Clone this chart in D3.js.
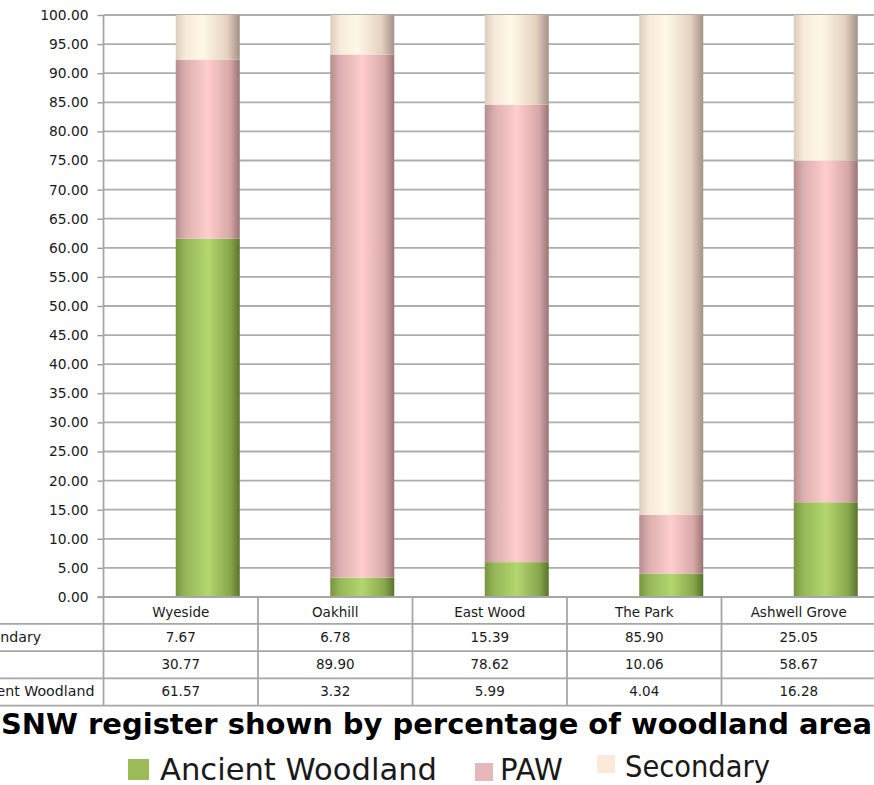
<!DOCTYPE html>
<html>
<head>
<meta charset="utf-8">
<script src="https://cdn.jsdelivr.net/npm/d3@7"></script>
<style>
  html, body { margin: 0; padding: 0; background: #fff; }
  svg { display: block; font-family: "DejaVu Sans", Verdana, sans-serif; }
</style>
</head>
<body>
<svg id="chart" width="874" height="785"></svg>
<script>
// Woodland sites and the share of each woodland type (percent of area)
const sites = ["Wyeside", "Oakhill", "East Wood", "The Park", "Ashwell Grove"];
const ancientWoodland = [61.57, 3.32, 5.99, 4.04, 16.28];
const paw = [30.77, 89.90, 78.62, 10.06, 58.67];
const secondary = [7.67, 6.78, 15.39, 85.90, 25.05];
const seriesNames = ["Ancient Woodland", "PAW", "Secondary"];
const yTicks = d3.range(0, 100.001, 5);
const titleText = "SNW register shown by percentage of woodland area";

const svg = d3.select("#chart");
const W = 874;

// plot frame
const plotLeft = 103.5, plotRight = 876, plotTop = 15, plotBottom = 597;
const rowH = 27.3;

const x = d3.scaleBand().domain(sites).range([plotLeft, plotRight]).padding(0);
const y = d3.scaleLinear().domain([0, 100]).range([plotBottom, plotTop]);
const barW = 64, barShift = 27;

// bar shading gradients
const gradDefs = {
  "Ancient Woodland": [[0, "#76953f"], [0.15, "#95b758"], [0.5, "#b4d66f"], [0.85, "#88a64c"], [1, "#58752b"]],
  "PAW": [[0, "#b68d8d"], [0.15, "#dcafaf"], [0.5, "#ffcdcd"], [0.85, "#d7a7a7"], [1, "#9a7373"]],
  "Secondary": [[0, "#dccdbd"], [0.15, "#f7eada"], [0.42, "#fff8e7"], [0.8, "#e5d2c1"], [1, "#a49188"]]
};
const keyColors = { "Ancient Woodland": "#9bbb59", "PAW": "#e6b9b8", "Secondary": "#fde9d9" };
const defs = svg.append("defs");
seriesNames.forEach((name, i) => {
  const g = defs.append("linearGradient").attr("id", "grad" + i)
    .attr("x1", 0).attr("x2", 1).attr("y1", 0).attr("y2", 0);
  gradDefs[name].forEach(([o, c]) => g.append("stop").attr("offset", o).attr("stop-color", c));
});

// horizontal gridlines
svg.append("g").selectAll("line").data(yTicks).join("line")
  .attr("x1", plotLeft).attr("x2", W)
  .attr("y1", d => y(d)).attr("y2", d => y(d))
  .attr("stroke", "#adadad").attr("stroke-width", 1.8);

// stacked bars
const table = sites.map((s, i) => ({
  site: s,
  "Ancient Woodland": ancientWoodland[i],
  "PAW": paw[i],
  "Secondary": secondary[i]
}));
const stacked = d3.stack().keys(seriesNames)(table);
svg.append("g").selectAll("g").data(stacked).join("g")
  .attr("fill", (d, i) => `url(#grad${i})`)
  .selectAll("rect").data(d => d).join("rect")
  .attr("x", d => x(d.data.site) + x.bandwidth() / 2 + barShift - barW / 2)
  .attr("width", barW)
  .attr("y", d => y(d[1]))
  .attr("height", d => y(d[0]) - y(d[1]));

// y axis
const yAxis = d3.axisLeft(y).tickValues(yTicks).tickFormat(d3.format(".2f")).tickSize(6).tickPadding(9);
const gy = svg.append("g").attr("transform", `translate(${plotLeft},0)`).call(yAxis);
gy.select(".domain").remove();
gy.selectAll(".tick line").attr("stroke", "#9a9a9a").attr("stroke-width", 1.4);
gy.selectAll(".tick text").attr("font-size", 13.8).attr("fill", "#1a1a1a")
  .attr("font-family", "'DejaVu Sans', Verdana, sans-serif");

// data table under the plot
const tableG = svg.append("g");
const lineColor = "#a6a6a6";
const tableBottom = plotBottom + rowH * 4 - 0.5;
// vertical column separators
const colEdges = sites.map(s => x(s)).concat([plotRight]);
tableG.selectAll("line.v").data(colEdges).join("line")
  .attr("class", "v")
  .attr("x1", d => d).attr("x2", d => d)
  .attr("y1", d => d === plotLeft ? plotTop : plotBottom).attr("y2", tableBottom)
  .attr("stroke", lineColor).attr("stroke-width", 1.8);
// horizontal row lines
const rowLines = [1, 2, 3, 4].map(k => plotBottom + rowH * k - 0.5);
tableG.selectAll("line.h").data(rowLines).join("line")
  .attr("class", "h")
  .attr("x1", 0).attr("x2", W)
  .attr("y1", d => d).attr("y2", d => d)
  .attr("stroke", lineColor).attr("stroke-width", 1.8);
// x axis baseline
tableG.append("line")
  .attr("x1", plotLeft - 6).attr("x2", W)
  .attr("y1", plotBottom).attr("y2", plotBottom)
  .attr("stroke", lineColor).attr("stroke-width", 1.8);

// column headers
tableG.selectAll("text.head").data(sites).join("text")
  .attr("class", "head")
  .attr("x", d => x(d) + x.bandwidth() / 2)
  .attr("y", plotBottom + 20)
  .attr("text-anchor", "middle").attr("font-size", 13.5).attr("fill", "#1a1a1a")
  .text(d => d);

// value rows, top to bottom; the row labels sit flush with the left edge
const rows = [
  { name: "Secondary", values: secondary },
  { name: "PAW", values: paw },
  { name: "Ancient Woodland", values: ancientWoodland }
];
rows.forEach((r, ri) => {
  const baseY = plotBottom + rowH * (ri + 1) + 17.5;
  tableG.append("text")
    .attr("x", -34).attr("y", baseY)
    .attr("font-size", 14.2).attr("fill", "#1a1a1a")
    .text(r.name);
  tableG.selectAll(null).data(r.values).join("text")
    .attr("x", (d, i) => x(sites[i]) + x.bandwidth() / 2)
    .attr("y", baseY)
    .attr("text-anchor", "middle").attr("font-size", 13.5).attr("fill", "#1a1a1a")
    .text(d => d3.format(".2f")(d));
});

// title
svg.append("text")
  .attr("x", 1).attr("y", 734)
  .attr("font-size", 28).attr("font-weight", "bold").attr("fill", "#000")
  .attr("textLength", 871).attr("lengthAdjust", "spacingAndGlyphs")
  .text(titleText);

// legend
const legendItems = [
  { name: "Ancient Woodland", keyX: 128, keyY: 759, keySize: 21, textX: 160, textW: 277 },
  { name: "PAW", keyX: 475, keyY: 763, keySize: 18, textX: 500, textW: 63 },
  { name: "Secondary", keyX: 597, keyY: 755, keySize: 18, textX: 625, textW: 145 }
];
const lg = svg.append("g");
legendItems.forEach(it => {
  lg.append("rect").attr("x", it.keyX).attr("y", it.keyY)
    .attr("width", it.keySize).attr("height", it.keySize)
    .attr("fill", keyColors[it.name]);
  lg.append("text").attr("x", it.textX).attr("y", it.name === "Secondary" ? 777 : 780)
    .attr("font-size", 31).attr("fill", "#1a1a1a")
    .attr("textLength", it.textW).attr("lengthAdjust", "spacingAndGlyphs")
    .text(it.name);
});
</script>
</body>
</html>
